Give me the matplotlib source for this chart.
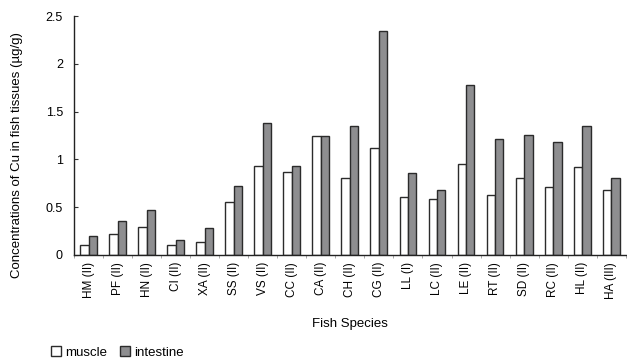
"""Cu concentrations in muscle and intestine, by fish species."""
import matplotlib
matplotlib.use("Agg")
import matplotlib.pyplot as plt
import numpy as np
from matplotlib.patches import Patch

plt.rcParams["font.family"] = ["Liberation Sans", "DejaVu Sans"]

species = ["HM (II)", "PF (II)", "HN (II)", "CI (II)", "XA (II)", "SS (II)",
           "VS (II)", "CC (II)", "CA (II)", "CH (II)", "CG (II)", "LL (I)",
           "LC (II)", "LE (II)", "RT (II)", "SD (II)", "RC (II)", "HL (II)",
           "HA (III)"]
muscle = [0.10, 0.22, 0.29, 0.10, 0.13, 0.55, 0.93, 0.87, 1.24, 0.81,
          1.12, 0.61, 0.58, 0.95, 0.63, 0.81, 0.71, 0.92, 0.68]
intestine = [0.20, 0.35, 0.47, 0.16, 0.28, 0.72, 1.38, 0.93, 1.24, 1.35,
             2.34, 0.86, 0.68, 1.78, 1.21, 1.26, 1.18, 1.35, 0.81]

fig = plt.figure(figsize=(6.27, 3.58), dpi=100)
ax = fig.add_axes([0.118, 0.288, 0.88, 0.667])

x = np.arange(len(species))
w = 0.29
edge = "#2b2b2b"
ax.bar(x - w / 2, muscle, w, color="white", edgecolor=edge, lw=1.0)
ax.bar(x + w / 2, intestine, w, color="#8e8e90", edgecolor=edge, lw=1.0)

ax.set_xlim(-0.5, len(species) - 0.5)
ax.set_ylim(0, 2.5)
ax.set_yticks([0, 0.5, 1, 1.5, 2, 2.5])
ax.set_yticklabels(["0", "0.5", "1", "1.5", "2", "2.5"])
ax.tick_params(axis="y", direction="in", length=3, labelsize=9, pad=8,
               color="#333")

# category labels at centres, tick marks at group boundaries
ax.set_xticks(x)
ax.set_xticklabels(species, rotation=90, fontsize=8.5)
ax.tick_params(axis="x", length=0, pad=5)
ax.set_xticks(np.arange(len(species) + 1) - 0.5, minor=True)
ax.tick_params(axis="x", which="minor", direction="out", length=2,
               color="#999")

for s in ("top", "right"):
    ax.spines[s].set_visible(False)
for s in ("left", "bottom"):
    ax.spines[s].set_color("#222")
    ax.spines[s].set_linewidth(1.0)

ax.set_ylabel("Concentrations of Cu in fish tissues (\u00b5g/g)", fontsize=9.5)
ax.yaxis.set_label_coords(-0.093, 0.42)
ax.set_xlabel("Fish Species", fontsize=9.5, labelpad=14)

handles = [Patch(facecolor="white", edgecolor=edge, label="muscle"),
           Patch(facecolor="#8e8e90", edgecolor=edge, label="intestine")]
fig.legend(handles=handles, loc="lower left", bbox_to_anchor=(0.063, -0.035),
           ncol=2, frameon=False, fontsize=9.5, handlelength=0.75,
           handleheight=0.75, handletextpad=0.3, columnspacing=1.0)

fig.savefig("out.png", dpi=100, facecolor="white")
